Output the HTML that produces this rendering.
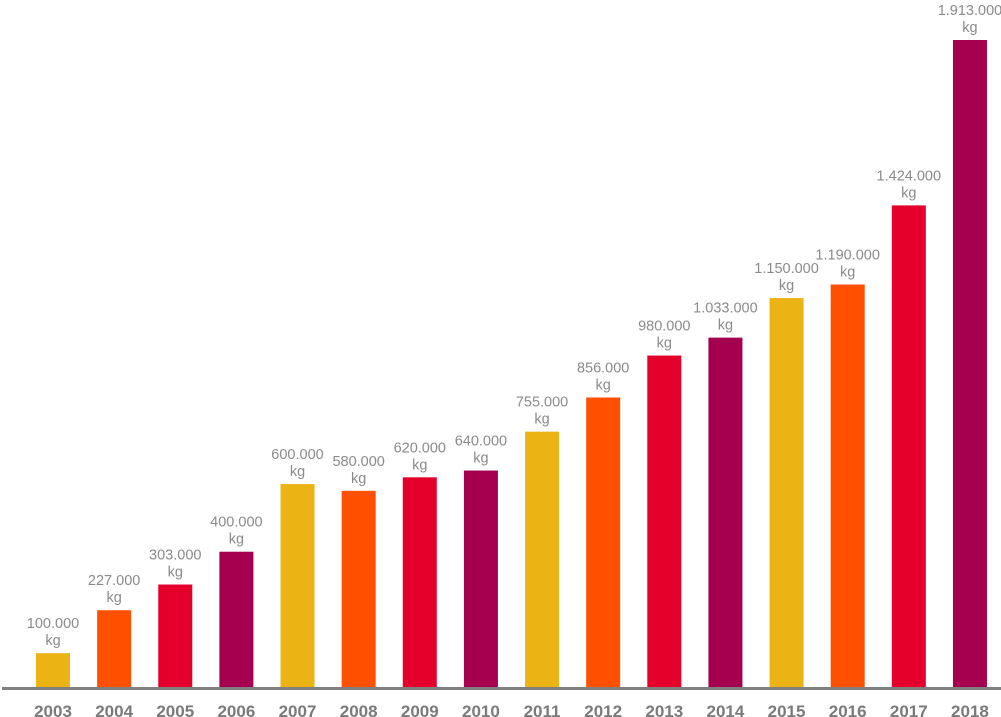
<!DOCTYPE html>
<html><head><meta charset="utf-8"><style>
body{margin:0;background:#fff;width:1001px;height:717px;overflow:hidden}
svg{display:block;font-family:"Liberation Sans",sans-serif}
</style></head><body>
<svg id="chart" width="1001" height="717" xmlns="http://www.w3.org/2000/svg">
<line x1="2" x2="1001" y1="688.5" y2="688.5" stroke="#7f7f7f" stroke-width="3"/>
<g id="bars"></g>
</svg>
<script>
const years=["2003","2004","2005","2006","2007","2008","2009","2010","2011","2012","2013","2014","2015","2016","2017","2018"];
const values=[100000,227000,303000,400000,600000,580000,620000,640000,755000,856000,980000,1033000,1150000,1190000,1424000,1913000];
const valueLabels=["100.000","227.000","303.000","400.000","600.000","580.000","620.000","640.000","755.000","856.000","980.000","1.033.000","1.150.000","1.190.000","1.424.000","1.913.000"];
const colors=["#EBB314","#FF5000","#E4002B","#A50050"];
const base=687, x0=36, step=61.13, bw=34;
const yScale=v=>base-v*(647/1913000);
const xScale=i=>x0+i*step;
const g=document.getElementById('bars');
const NS="http://www.w3.org/2000/svg";
years.forEach((yr,i)=>{
  const x=xScale(i), y=yScale(values[i]);
  const r=document.createElementNS(NS,'rect');
  
  
  r.setAttribute('x',x);r.setAttribute('y',y);r.setAttribute('width',bw);r.setAttribute('height',base-y);
  r.setAttribute('fill',colors[i%4]);
  g.appendChild(r);
  const t=document.createElementNS(NS,'text');
  
  
  t.setAttribute('x',x+bw/2);t.setAttribute('y',y-25);
  t.setAttribute('text-anchor','middle');t.setAttribute('font-size','14.5');t.setAttribute('fill','#8a8a8a');
  t.textContent=valueLabels[i];
  g.appendChild(t);
  const k=document.createElementNS(NS,'text');
  
  
  k.setAttribute('x',x+bw/2);k.setAttribute('y',y-8);
  k.setAttribute('text-anchor','middle');k.setAttribute('font-size','14.5');k.setAttribute('fill','#8a8a8a');
  k.textContent='kg';
  g.appendChild(k);
  const yl=document.createElementNS(NS,'text');
  
  
  yl.setAttribute('x',x+bw/2);yl.setAttribute('y',717);
  yl.setAttribute('text-anchor','middle');yl.setAttribute('font-size','17');yl.setAttribute('font-weight','bold');yl.setAttribute('fill','#7a7a7a');
  yl.textContent=yr;
  g.appendChild(yl);
});
</script>
</body></html>
